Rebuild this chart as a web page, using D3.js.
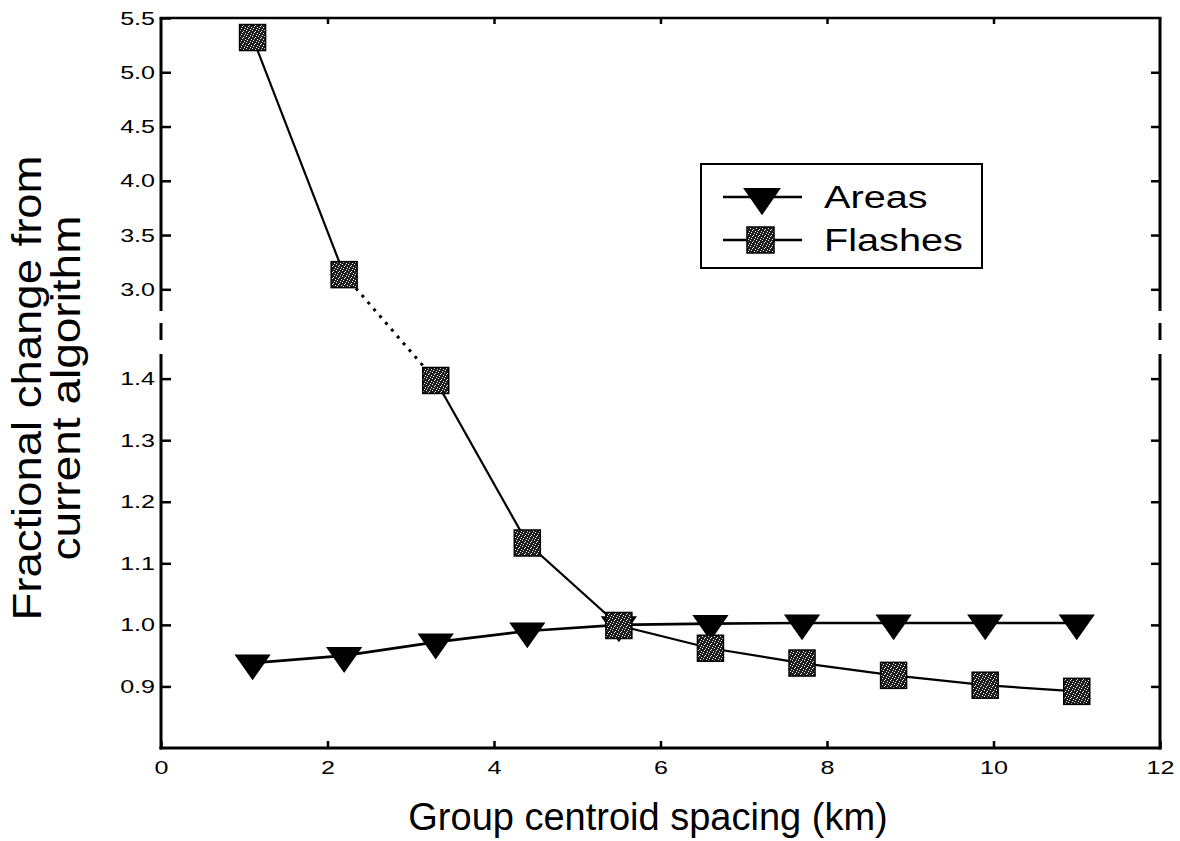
<!DOCTYPE html>
<html>
<head>
<meta charset="utf-8">
<script src="https://cdn.jsdelivr.net/npm/d3@7"></script>
<style>
  body { margin: 0; background: #fff; }
  svg { display: block; font-family: "Liberation Sans", Arial, sans-serif; }
</style>
</head>
<body>
<div id="chart"></div>
<script>
// data
var spacing = [1.1, 2.2, 3.3, 4.4, 5.5, 6.6, 7.7, 8.8, 9.9, 11.0];
var areas = [0.938, 0.950, 0.972, 0.990, 1.000, 1.002, 1.003, 1.003, 1.003, 1.003];
var flashes = [5.32, 3.135, 1.397, 1.133, 0.999, 0.962, 0.938, 0.918, 0.902, 0.892];
var xTicks = [0, 2, 4, 6, 8, 10, 12];
var upperTicks = [3.0, 3.5, 4.0, 4.5, 5.0, 5.5];
var lowerTicks = [0.9, 1.0, 1.1, 1.2, 1.3, 1.4];
var seriesNames = ["Areas", "Flashes"];

var svgWidth = 1180;
var svgHeight = 841;

var plot = { left: 161, right: 1160, top: 18, bottom: 748 };
var breakGap = { upperEnd: 311, dashStart: 323, dashEnd: 340, lowerStart: 354 };

var svg = d3.select("#chart")
  .append("svg")
  .attr("width", svgWidth)
  .attr("height", svgHeight);

// stipple fill for the squares
var defs = svg.append("defs");
var pat = defs.append("pattern")
  .attr("id", "stipple")
  .attr("width", 6)
  .attr("height", 6)
  .attr("patternUnits", "userSpaceOnUse");
pat.append("rect").attr("width", 6).attr("height", 6).attr("fill", "#1e1e1e");
[[0, 0], [3, 1], [5, 3], [1, 4], [4, 5], [2, 2]].forEach(function(p) {
  pat.append("rect").attr("x", p[0]).attr("y", p[1]).attr("width", 1).attr("height", 1).attr("fill", "#f0f0f0");
});

var xScale = d3.scaleLinear().domain([0, 12]).range([plot.left, plot.right]);
var yUpper = d3.scaleLinear().domain([2.8, 5.5]).range([breakGap.upperEnd, plot.top]);
var yLower = d3.scaleLinear().domain([0.8, 1.44]).range([plot.bottom, breakGap.lowerStart]);

function yOf(v) { return v >= 2 ? yUpper(v) : yLower(v); }

function stretchText(sel, k) {
  sel.each(function() {
    var w = this.getComputedTextLength();
    d3.select(this).attr("textLength", w * k).attr("lengthAdjust", "spacingAndGlyphs");
  });
}

function styleAxis(g, showText) {
  g.select(".domain").remove();
  g.selectAll(".tick line").attr("stroke", "#000").attr("stroke-width", 2.5);
  if (showText) {
    g.selectAll(".tick text")
      .attr("fill", "#000")
      .attr("font-size", "19px")
      .call(stretchText, 1.32);
  } else {
    g.selectAll(".tick text").remove();
  }
}

var fmt = d3.format(".1f");

// left axes
svg.append("g").attr("transform", `translate(${plot.left},0)`)
  .call(d3.axisLeft(yUpper).tickValues(upperTicks).tickSize(-10).tickPadding(6).tickFormat(fmt))
  .call(styleAxis, true);
svg.append("g").attr("transform", `translate(${plot.left},0)`)
  .call(d3.axisLeft(yLower).tickValues(lowerTicks).tickSize(-10).tickPadding(6).tickFormat(fmt))
  .call(styleAxis, true);

// right axes
svg.append("g").attr("transform", `translate(${plot.right},0)`)
  .call(d3.axisRight(yUpper).tickValues(upperTicks.slice(0, 5)).tickSize(-9))
  .call(styleAxis, false);
svg.append("g").attr("transform", `translate(${plot.right},0)`)
  .call(d3.axisRight(yLower).tickValues(lowerTicks).tickSize(-9))
  .call(styleAxis, false);

// bottom + top axes
svg.append("g").attr("transform", `translate(0,${plot.bottom})`)
  .call(d3.axisBottom(xScale).tickValues(xTicks).tickSize(-7).tickPadding(13).tickFormat(d3.format("d")))
  .call(styleAxis, true);
svg.append("g").attr("transform", `translate(0,${plot.top})`)
  .call(d3.axisTop(xScale).tickValues(xTicks.slice(1, 6)).tickSize(-6))
  .call(styleAxis, false);

// frame with broken vertical sides
var frame = svg.append("g").attr("stroke", "#000").attr("stroke-width", 3).attr("fill", "none");
[plot.left, plot.right].forEach(function(x) {
  frame.append("line").attr("x1", x).attr("x2", x).attr("y1", plot.top).attr("y2", breakGap.upperEnd);
  frame.append("line").attr("x1", x).attr("x2", x).attr("y1", breakGap.dashStart).attr("y2", breakGap.dashEnd);
  frame.append("line").attr("x1", x).attr("x2", x).attr("y1", breakGap.lowerStart).attr("y2", plot.bottom + 1.5);
});
frame.append("line").attr("x1", plot.left - 1.5).attr("x2", plot.right + 1.5).attr("y1", plot.top).attr("y2", plot.top).attr("stroke-width", 2.5);
frame.append("line").attr("x1", plot.left - 1.5).attr("x2", plot.right + 1.5).attr("y1", plot.bottom).attr("y2", plot.bottom);

// series lines
var areaData = spacing.map(function(x, i) { return { x: x, y: areas[i] }; });
var flashData = spacing.map(function(x, i) { return { x: x, y: flashes[i] }; });

var line = d3.line().x(d => xScale(d.x)).y(d => yOf(d.y));

svg.append("path")
  .datum(areaData)
  .attr("d", line)
  .attr("fill", "none")
  .attr("stroke", "#000")
  .attr("stroke-width", 2.6);

var flashUpper = flashData.filter(d => d.y >= 2);
var flashLower = flashData.filter(d => d.y < 2);

svg.append("path")
  .datum(flashUpper)
  .attr("d", line)
  .attr("fill", "none")
  .attr("stroke", "#000")
  .attr("stroke-width", 2.2);
svg.append("path")
  .datum(flashLower)
  .attr("d", line)
  .attr("fill", "none")
  .attr("stroke", "#000")
  .attr("stroke-width", 2.2);
// dotted link across the break
svg.append("path")
  .datum([flashUpper[flashUpper.length - 1], flashLower[0]])
  .attr("d", line)
  .attr("fill", "none")
  .attr("stroke", "#000")
  .attr("stroke-width", 3)
  .attr("stroke-dasharray", "3,6");

// markers
var tri = d3.symbol().type(d3.symbolTriangle).size(430);

svg.append("g")
  .selectAll("path")
  .data(areaData)
  .enter()
  .append("path")
  .attr("d", tri)
  .attr("transform", d => `translate(${xScale(d.x)},${yOf(d.y)}) rotate(180) scale(1.15,0.95)`)
  .attr("fill", "#000");

var sq = 26;
svg.append("g")
  .selectAll("rect")
  .data(flashData)
  .enter()
  .append("rect")
  .attr("x", d => xScale(d.x) - sq / 2)
  .attr("y", d => yOf(d.y) - sq / 2)
  .attr("width", sq)
  .attr("height", sq)
  .attr("fill", "url(#stipple)")
  .attr("stroke", "#000")
  .attr("stroke-width", 1.5);

// legend
var legend = svg.append("g");
legend.append("rect")
  .attr("x", 701).attr("y", 164).attr("width", 281).attr("height", 104)
  .attr("fill", "#fff").attr("stroke", "#000").attr("stroke-width", 2);

var legendRows = legend.selectAll("g.row")
  .data(seriesNames)
  .enter()
  .append("g")
  .attr("class", "row")
  .attr("transform", (d, i) => `translate(0,${i === 0 ? 197 : 240})`);

legendRows.append("line")
  .attr("x1", 723).attr("x2", 802).attr("y1", 0).attr("y2", 0)
  .attr("stroke", "#000").attr("stroke-width", 2.5);

legendRows.filter(d => d === "Areas").append("path")
  .attr("d", tri)
  .attr("transform", "translate(762,0) rotate(180) scale(1.2,1.0)")
  .attr("fill", "#000");

legendRows.filter(d => d === "Flashes").append("rect")
  .attr("x", 747).attr("y", -13).attr("width", 27).attr("height", 26)
  .attr("fill", "url(#stipple)").attr("stroke", "#000").attr("stroke-width", 1.5);

legendRows.append("text")
  .attr("x", 824)
  .attr("y", 11)
  .attr("font-size", "31px")
  .attr("fill", "#000")
  .text(d => d)
  .call(stretchText, 1.28);

// axis titles
svg.append("text")
  .attr("x", 648)
  .attr("y", 830)
  .attr("text-anchor", "middle")
  .attr("font-size", "38px")
  .attr("fill", "#000")
  .text("Group centroid spacing (km)");

svg.append("text")
  .attr("transform", "translate(41,388) rotate(-90)")
  .attr("text-anchor", "middle")
  .attr("font-size", "40px")
  .attr("fill", "#000")
  .attr("textLength", 465)
  .attr("lengthAdjust", "spacingAndGlyphs")
  .text("Fractional change from");

svg.append("text")
  .attr("transform", "translate(80,388) rotate(-90)")
  .attr("text-anchor", "middle")
  .attr("font-size", "40px")
  .attr("fill", "#000")
  .attr("textLength", 345)
  .attr("lengthAdjust", "spacingAndGlyphs")
  .text("current algorithm");
</script>
</body>
</html>
